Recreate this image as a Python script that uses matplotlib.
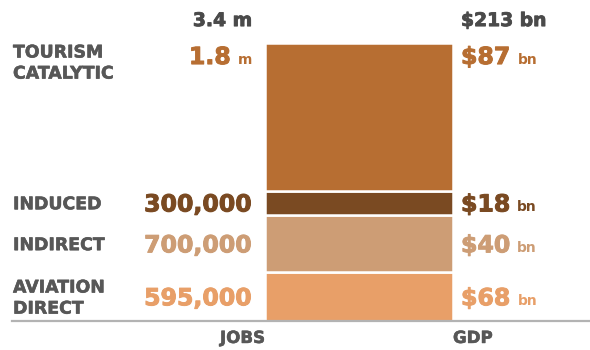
import matplotlib
matplotlib.use("Agg")
import matplotlib.pyplot as plt
import matplotlib.patheffects as pe
from matplotlib.lines import Line2D
from matplotlib.transforms import blended_transform_factory

# Aviation-supported jobs and GDP, stacked from the ground up
segments = ["AVIATION\nDIRECT", "INDIRECT", "INDUCED", "TOURISM\nCATALYTIC"]
jobs = [595_000, 700_000, 300_000, 1_800_000]
gdp_bn = [68, 40, 18, 87]
colors = ["#E89F68", "#CD9D75", "#7A4A22", "#B76E32"]

label_grey = "#575757"
total_grey = "#4a4a4a"


def jobs_text(v):
    if v >= 1_000_000:
        return f"{v / 1e6:.1f}", "m"
    return f"{v:,}", ""


def heavy(color, w=0.7):
    # fatten DejaVu Bold a little so the figures read as a black weight
    return [pe.withStroke(linewidth=w, foreground=color)]


fig = plt.figure(figsize=(5.9, 3.5), dpi=100)
ax = fig.add_axes([265 / 590, 29 / 350, 188 / 590, 277.5 / 350])

total_jobs = sum(jobs) / 1e6
bottom = 0.0
mids, tops = [], []
for v, c in zip(jobs, colors):
    h = v / 1e6
    ax.bar(0, h, bottom=bottom, width=1, color=c, edgecolor="white",
           linewidth=1.8)
    mids.append(bottom + h / 2)
    tops.append(bottom + h)
    bottom += h
ax.set_xlim(-0.5, 0.5)
ax.set_ylim(0, total_jobs)
ax.axis("off")

trans = blended_transform_factory(fig.transFigure, ax.transData)
x_label, x_jobs, x_gdp = 13 / 590, 252 / 590, 461 / 590
cap_drop = -6.2  # baseline sits half a cap height below the anchor

label_kw = dict(fontsize=12.5, fontweight="bold", color=label_grey,
                linespacing=1.22, annotation_clip=False,
                path_effects=heavy(label_grey, 0.4))

for i, (name, v, g, c) in enumerate(zip(segments, jobs, gdp_bn, colors)):
    top_seg = i == len(jobs) - 1
    y = tops[i] if top_seg else mids[i]
    dy = cap_drop - 8.6 if top_seg else cap_drop
    num_kw = dict(textcoords="offset points", va="baseline", fontsize=17,
                  fontweight="bold", color=c, annotation_clip=False,
                  path_effects=heavy(c))
    unit_kw = dict(textcoords="offset points", va="baseline", fontsize=10,
                   fontweight="bold", color=c, annotation_clip=False)

    # category name
    if top_seg:
        ax.annotate(name, xy=(x_label, y), xycoords=trans, xytext=(0, 0),
                    textcoords="offset points", ha="left", va="top",
                    **label_kw)
    else:
        ax.annotate(name, xy=(x_label, y), xycoords=trans, xytext=(0, -1),
                    textcoords="offset points", ha="left", va="center",
                    **label_kw)

    # jobs, right-aligned against the bar
    num, unit = jobs_text(v)
    if unit:
        u = ax.annotate(unit, xy=(x_jobs, y), xycoords=trans,
                        xytext=(0, dy), ha="right", **unit_kw)
        ax.annotate(num, xy=(0, y), xycoords=(u, trans), xytext=(-5, dy),
                    ha="right", **num_kw)
    else:
        ax.annotate(num, xy=(x_jobs, y), xycoords=trans, xytext=(0, dy),
                    ha="right", **num_kw)

    # GDP, left-aligned after the bar
    big = ax.annotate(f"${g}", xy=(x_gdp, y), xycoords=trans,
                      xytext=(0, dy), ha="left", **num_kw)
    ax.annotate("bn", xy=(1, y), xycoords=(big, trans), xytext=(5, dy),
                ha="left", **unit_kw)

# totals above the bar
total_kw = dict(xycoords=trans, xytext=(0, 16.5), textcoords="offset points",
                va="center", fontsize=13.5, fontweight="bold",
                color=total_grey, annotation_clip=False,
                path_effects=heavy(total_grey, 0.6))
ax.annotate(f"{total_jobs:.1f} m", xy=(x_jobs, total_jobs), ha="right",
            **total_kw)
ax.annotate(f"${sum(gdp_bn)} bn", xy=(x_gdp, total_jobs), ha="left",
            **total_kw)

# baseline rule
fig.add_artist(Line2D([12 / 590, 1.0], [0, 0], transform=trans,
                      color="#b3b3b3", linewidth=1.6))

# column captions
cap_kw = dict(xycoords="axes fraction", xytext=(0, -12.2),
              textcoords="offset points", va="center", fontsize=12,
              fontweight="bold", color=label_grey, annotation_clip=False,
              path_effects=heavy(label_grey, 0.4))
ax.annotate("JOBS", xy=(0, 0), ha="right", **cap_kw)
ax.annotate("GDP", xy=(1, 0), ha="left", **cap_kw)

fig.savefig("out.png", dpi=100)
